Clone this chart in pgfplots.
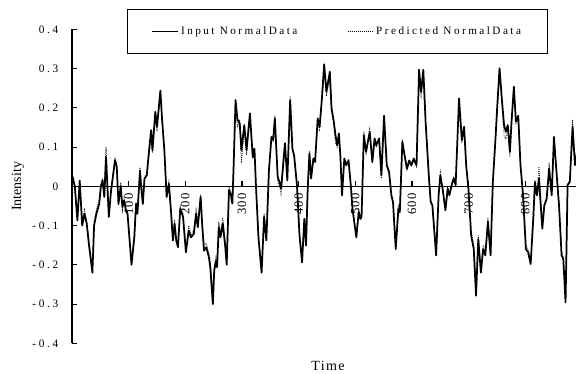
\documentclass[border=0pt]{standalone}
\usepackage{fontspec}
\setmainfont{Liberation Serif}
\newfontfamily\spacedA[LetterSpace=24]{Liberation Serif}
\newfontfamily\spacedL[LetterSpace=22]{Liberation Serif}
\newfontfamily\spacedB[LetterSpace=10]{Liberation Serif}
\usepackage{pgfplots}
\usepackage{pgfplotstable}
\pgfplotsset{compat=1.18}
\pgfplotstableread{
x y
1 0.025
5 0.0
9.5 -0.087
13.6 0.015
18 -0.10
22 -0.07
26 -0.095
30 -0.15
36 -0.22
39 -0.10
43 -0.07
48 -0.045
51 0.0
54 0.015
57 -0.027
60 0.075
65 -0.078
69 -0.01
76 0.067
79 0.05
82 -0.045
86 0.0
89 -0.053
92 -0.036
95 -0.06
98 -0.07
105 -0.20
110 -0.13
113 -0.045
115.5 -0.07
120 0.04
122 0.0
125 -0.045
128 0.02
132 0.028
135.5 0.084
139.6 0.143
142 0.092
147 0.19
150 0.152
156 0.244
159 0.17
163 0.092
167 -0.027
171 0.007
175 -0.07
178 -0.138
181 -0.095
184 -0.138
187 -0.155
191 -0.057
196 -0.078
201 -0.168
206 -0.113
210 -0.13
215 -0.121
219 -0.07
222 -0.104
227 -0.027
230 -0.104
233 -0.164
237 -0.155
241.5 -0.18
244 -0.206
248.6 -0.30
251 -0.215
254 -0.19
256 -0.206
259 -0.104
262 -0.13
266 -0.095
270 -0.147
273 -0.20
277 -0.01
280 -0.019
283 -0.044
285 0.04
288.6 0.22
292 0.17
296 0.16
299 0.092
304 0.156
308 0.092
314 0.186
319 0.075
322 0.096
324.6 0.003
329 -0.13
334.6 -0.22
339 -0.078
343 -0.138
347.5 0.04
352 0.126
355 0.118
358 0.173
363 0.024
367 0.007
369 -0.006
375.8 0.11
380 0.015
385 0.22
389 0.096
392 0.079
397 0.003
401.5 -0.125
406 -0.194
410 -0.083
413 -0.151
416 -0.006
419 0.084
422 0.02
426 0.071
429 0.062
433.6 0.173
437 0.152
441 0.224
445 0.311
449 0.241
451 0.258
455 0.292
458 0.199
462 0.165
465 0.13
468 0.105
471 0.135
473.6 0.079
476.5 -0.023
480.6 0.071
484 0.054
488 0.066
492 0.003
495 -0.057
498 -0.09
501.8 -0.13
506 -0.066
509 -0.083
511 -0.078
515 0.13
519 0.088
525.4 0.139
530 0.062
534 0.122
537 0.105
542 0.122
546 0.028
550.7 0.18
555.5 0.054
559.6 0.037
563.6 -0.023
566.5 -0.04
571.3 -0.16
576 -0.057
578.5 -0.066
583 0.113
587 0.079
591 0.045
595 0.066
599 0.054
603 0.071
608 0.054
612.5 0.297
616 0.241
620 0.297
624 0.165
630 0.02
633 -0.04
636 -0.049
642.6 -0.176
647 -0.023
650 0.028
654 -0.006
659 -0.061
663 -0.006
666 -0.023
670 0.003
673.6 0.02
677 0.003
683 0.224
688 0.118
692 0.152
695.6 0.054
699.6 -0.006
704.4 -0.125
709 -0.16
713 -0.279
717 -0.134
721.6 -0.22
725.6 -0.16
729.4 -0.176
734 -0.09
738.7 -0.176
742.7 0.011
747 0.113
750.6 0.207
754.5 0.301
758.5 0.224
762.5 0.156
765.6 0.139
769 0.156
772.8 0.088
775.7 0.165
779.8 0.254
783.4 0.165
787.5 0.18
791.5 0.054
796 -0.023
801 -0.16
805 -0.168
809.4 -0.198
814 -0.083
817 0.011
820.5 -0.023
824 0.02
830 -0.108
833.5 -0.049
837.6 -0.032
842 0.045
846.6 -0.023
850.5 0.126
855 0.037
859.5 -0.049
864 -0.176
867 -0.185
871 -0.296
874.6 0.003
878.5 0.011
883.4 0.152
887.6 0.054
891.4 0.088
895 0.06
}\inputdata
\pgfplotstableread{
x y
1 0.02
5 -0.01
9.5 -0.08
13.6 0.01
18 -0.09
22 -0.06
26 -0.09
30 -0.14
36 -0.21
39 -0.09
43 -0.06
48 -0.035
51 0.005
54 0.02
57 -0.02
60 0.10
65 -0.07
69 -0.005
76 0.07
79 0.045
82 -0.04
86 0.01
89 -0.06
92 -0.03
95 -0.055
98 -0.065
105 -0.19
110 -0.125
113 -0.04
115.5 -0.06
120 0.05
122 0.005
125 -0.04
128 0.025
132 0.03
135.5 0.075
139.6 0.13
142 0.085
147 0.18
150 0.14
156 0.235
159 0.165
163 0.085
167 -0.03
171 0.01
175 -0.065
178 -0.13
181 -0.085
184 -0.13
187 -0.15
191 -0.05
196 -0.07
201 -0.16
206 -0.10
210 -0.125
215 -0.11
219 -0.06
222 -0.095
227 -0.02
230 -0.095
233 -0.15
237 -0.145
241.5 -0.17
244 -0.19
248.6 -0.28
251 -0.205
254 -0.18
256 -0.19
259 -0.09
262 -0.12
266 -0.08
270 -0.135
273 -0.19
277 0.0
280 -0.015
283 -0.04
285 0.045
288.6 0.20
292 0.15
296 0.17
299 0.06
304 0.15
308 0.08
314 0.17
319 0.07
322 0.09
324.6 0.0
329 -0.12
334.6 -0.21
339 -0.07
343 -0.13
347.5 0.045
352 0.12
355 0.115
358 0.18
363 0.01
367 0.0
369 -0.025
375.8 0.105
380 0.02
385 0.23
389 0.09
392 0.075
397 0.0
401.5 -0.12
406 -0.185
410 -0.08
413 -0.14
416 0.0
419 0.09
422 0.025
426 0.07
429 0.065
433.6 0.165
437 0.145
441 0.215
445 0.30
449 0.23
451 0.25
455 0.27
458 0.19
462 0.16
465 0.11
468 0.10
471 0.12
473.6 0.07
476.5 -0.02
480.6 0.065
484 0.05
488 0.07
492 0.0
495 -0.05
498 -0.085
501.8 -0.12
506 -0.06
509 -0.075
511 -0.07
515 0.14
519 0.085
525.4 0.145
530 0.06
534 0.115
537 0.10
542 0.12
546 0.02
550.7 0.17
555.5 0.05
559.6 0.03
563.6 -0.02
566.5 -0.035
571.3 -0.15
576 -0.05
578.5 -0.06
583 0.12
587 0.075
591 0.04
595 0.06
599 0.05
603 0.065
608 0.05
612.5 0.27
616 0.23
620 0.28
624 0.16
630 0.015
633 -0.035
636 -0.045
642.6 -0.165
647 -0.02
650 0.035
654 -0.005
659 -0.055
663 0.0
666 -0.02
670 0.005
673.6 0.025
677 0.005
683 0.21
688 0.11
692 0.145
695.6 0.05
699.6 -0.01
704.4 -0.115
709 -0.15
713 -0.26
717 -0.125
721.6 -0.21
725.6 -0.15
729.4 -0.165
734 -0.08
738.7 -0.165
742.7 0.015
747 0.11
750.6 0.20
754.5 0.29
758.5 0.215
762.5 0.13
765.6 0.12
769 0.15
772.8 0.075
775.7 0.16
779.8 0.245
783.4 0.16
787.5 0.17
791.5 0.05
796 -0.02
801 -0.15
805 -0.16
809.4 -0.19
814 -0.075
817 0.015
820.5 -0.02
824 0.05
830 -0.10
833.5 -0.045
837.6 -0.03
842 0.06
846.6 -0.02
850.5 0.12
855 0.035
859.5 -0.045
864 -0.165
867 -0.18
871 -0.29
874.6 0.005
878.5 0.015
883.4 0.17
887.6 0.06
891.4 0.10
895 0.07
}\preddata
\begin{document}
\begin{tikzpicture}
\path[use as bounding box] (0,0) rectangle (432pt,280.5pt);
\begin{axis}[
  at={(54pt,23pt)}, anchor=south west,
  scale only axis, width=382.5pt, height=235.5pt,
  xmin=0, xmax=900, ymin=-0.4, ymax=0.4,
  clip=false,
  axis x line=middle, axis y line=left,
  axis line style={-, line width=0.8pt, black},
  xtick={0,100,200,300,400,500,600,700,800,900},
  ytick={-0.4,-0.3,-0.2,-0.1,0,0.1,0.2,0.3,0.4},
  tick align=inside,
  major tick length=4pt,
  tick style={line width=0.8pt, black},
  /pgf/number format/assume math mode=true,
  xticklabel style={font=\spacedB\fontsize{9.5}{10}\selectfont, yshift=-5pt, rotate=90, anchor=east, inner sep=0pt},
  yticklabel style={font=\spacedA\fontsize{8.5}{9}\selectfont, anchor=east, inner sep=0pt, xshift=-10pt},
  xlabel={Time},
  xlabel style={font=\spacedB\fontsize{10.5}{12}\selectfont, at={(axis description cs:0.502,-0.072)}, anchor=center},
  ylabel={Intensity},
  ylabel style={font=\fontsize{10.5}{12}\selectfont, at={(axis description cs:-0.106,0.5)}, anchor=center},
  legend columns=2,
  legend image code/.code={\draw[#1] (0pt,0pt) -- (19pt,0pt);},
  legend style={at={(axis description cs:0.1078,1.0648)}, anchor=north west, draw=black, line width=0.6pt,
    font=\spacedL\fontsize{8.4}{9}\selectfont, inner xsep=18pt, inner ysep=11pt,
    /tikz/every even column/.append style={column sep=35.5pt}},
]
\addplot[black, line width=1.3pt, line join=round] table[x=x,y=y] {\inputdata};
\addlegendentry{Input NormalData}
\addplot[black, line width=0.6pt, dash pattern=on 0.6pt off 0.9pt] table[x=x,y=y] {\preddata};
\addlegendentry{Predicted NormalData}
\end{axis}
\end{tikzpicture}
\end{document}
